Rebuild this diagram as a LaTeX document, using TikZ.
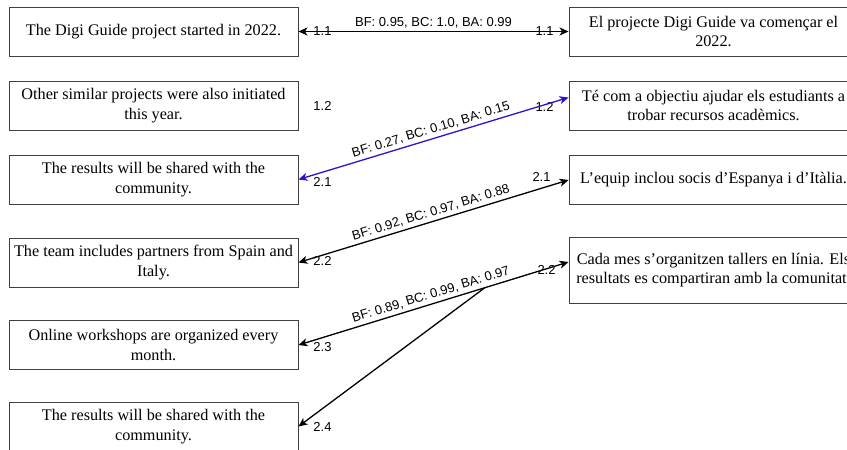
\documentclass[tikz,border=0pt]{standalone}
\usepackage{fontspec}
\setmainfont{Liberation Serif}
\newfontfamily\labelfont{Liberation Sans}
\usetikzlibrary{arrows.meta}
\definecolor{linkblue}{RGB}{51,17,204}

\begin{document}
\begin{tikzpicture}[x=1pt,y=-1pt,>={Stealth[length=9pt,width=8pt,inset=2.5pt]},
                    line width=1.3pt]

  \tikzstyle{sentence}=[rectangle,draw=black!75,line width=0.9pt,align=center,
                        minimum width=289pt,minimum height=49pt,inner sep=0pt,
                        font=\fontsize{16.2}{19.6}\selectfont]
  \tikzstyle{idx}=[font=\labelfont\fontsize{13}{15}\selectfont,inner sep=0pt]
  \tikzstyle{score}=[font=\labelfont\fontsize{13}{15}\selectfont,inner sep=3pt,
                     midway,above,sloped]

  \useasboundingbox (0,0) rectangle (847,450);
  \clip (0,0) rectangle (847,450);

  % English side
  \node[sentence] (S1) at (153.5,31.5)  {The Digi Guide project started in 2022.};
  \node[sentence] (S2) at (153.5,105.5) {Other similar projects were also initiated\\this year.};
  \node[sentence] (S3) at (153.5,179.5) {The results will be shared with the\\community.};
  \node[sentence] (S4) at (153.5,262.5) {The team includes partners from Spain and\\Italy.};
  \node[sentence] (S5) at (153.5,345)   {Online workshops are organized every\\month.};
  \node[sentence] (S6) at (153.5,426.5) {The results will be shared with the\\community.};

  % Catalan side
  \node[sentence] (T1) at (713.5,31.5)  {El projecte Digi Guide va començar el\\2022.};
  \node[sentence] (T2) at (713.5,105.5) {Té com a objectiu ajudar els estudiants a\\trobar recursos acadèmics.};
  \node[sentence] (T3) at (713.5,180)   {L’equip inclou socis d’Espanya i d’Itàlia.};
  \node[sentence,minimum height=66pt] (T4) at (713.5,270)
        {Cada mes s’organitzen tallers en línia. Els\\resultats es compartiran amb la comunitat.};

  % sentence numbers
  \node[idx] (nS1) at ([xshift=24pt]S1.east) {1.1};
  \node[idx] (nS2) at ([xshift=24pt]S2.east) {1.2};
  \node[idx] (nS3) at ([xshift=24pt,yshift=-2pt]S3.east) {2.1};
  \node[idx] (nS4) at ([xshift=24pt,yshift=2pt]S4.east) {2.2};
  \node[idx] (nS5) at ([xshift=24pt,yshift=-2pt]S5.east) {2.3};
  \node[idx] (nS6) at ([xshift=24pt]S6.east) {2.4};
  \node[idx] (nT1) at ([xshift=-24pt]T1.west) {1.1};
  \node[idx] (nT2) at ([xshift=-24pt,yshift=-1.5pt]T2.west) {1.2};
  \node[idx] (nT3) at ([xshift=-27pt,yshift=3pt]T3.west) {2.1};
  \node[idx] (nT4) at ([xshift=-22pt]T4.west) {2.2};

  \coordinate (T2in) at ([yshift=8pt]T2.west);
  \coordinate (T4in) at ([yshift=8pt]T4.west);

  % alignments
  \draw[<->] (S1.east) -- node[score] {BF: 0.95, BC: 1.0, BA: 0.99} (T1.west);
  \draw[<->,linkblue] (S3.east) -- node[score,black] {BF: 0.27, BC: 0.10, BA: 0.15} (T2in);
  \draw[<->] (S4.east) -- node[score] {BF: 0.92, BC: 0.97, BA: 0.88} (T3.west);
  \draw[<->] (S5.east) -- coordinate[pos=0.69] (fork)
                          node[score] {BF: 0.89, BC: 0.99, BA: 0.97} (T4in);
  \draw[->] (fork) -- (S6.east);
\end{tikzpicture}
\end{document}
